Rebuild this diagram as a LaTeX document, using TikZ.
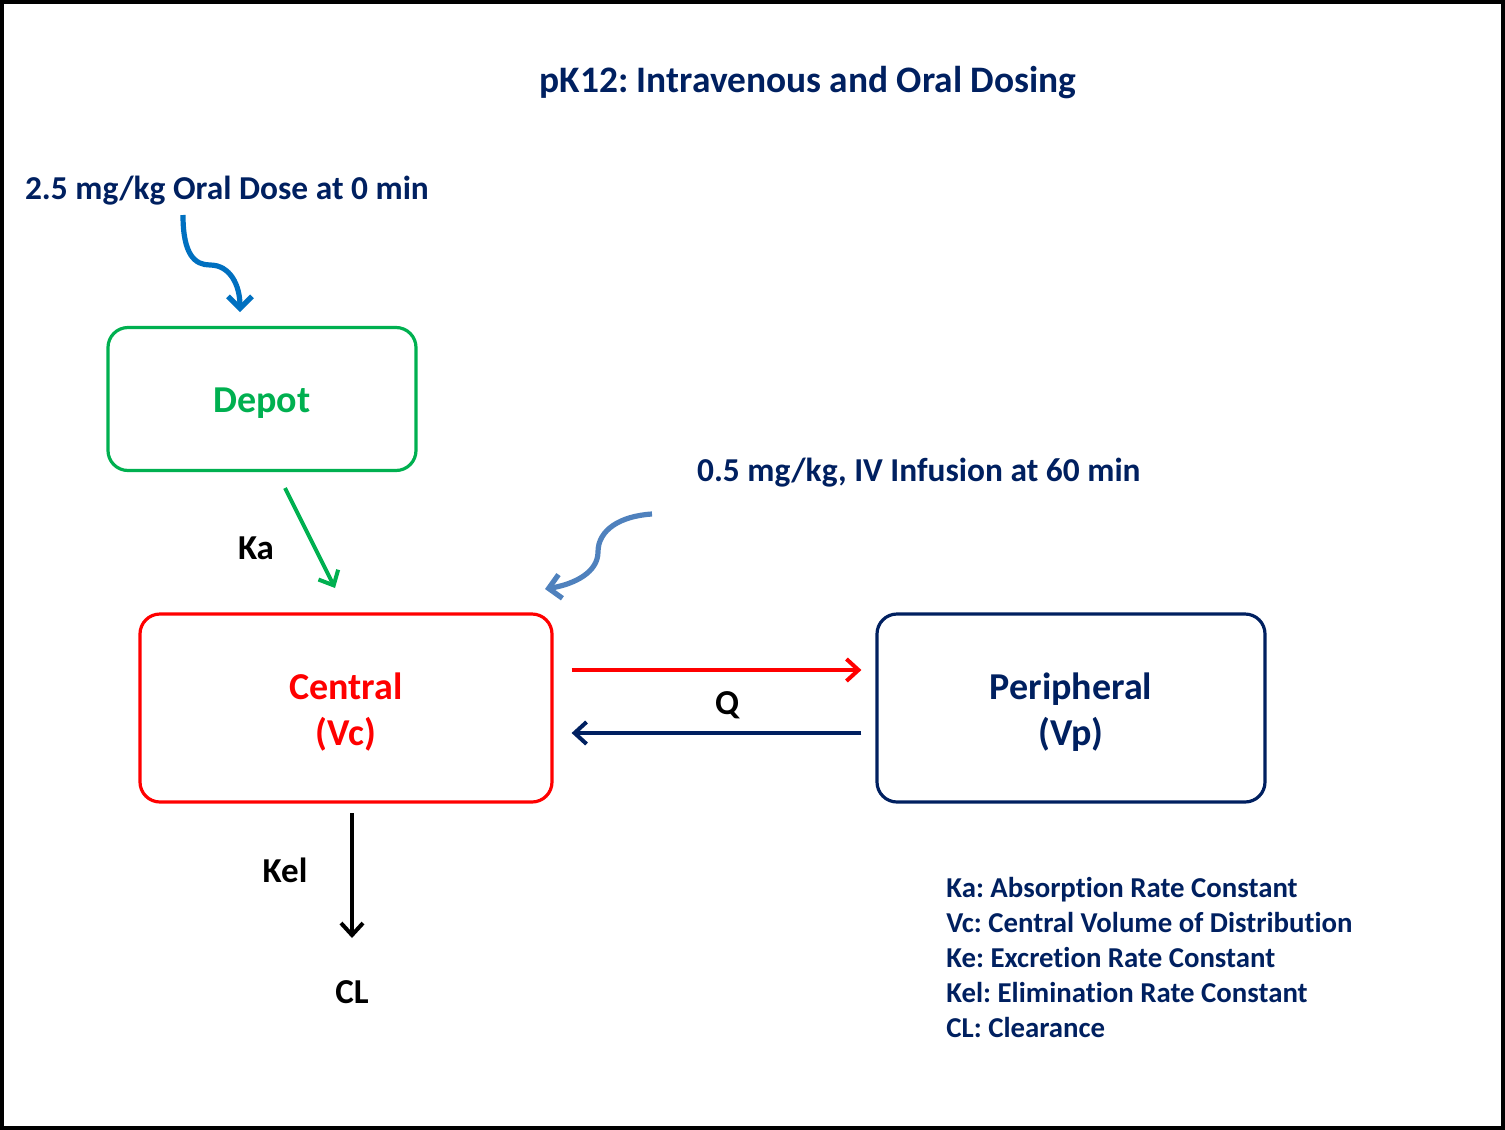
\documentclass[tikz,border=0pt]{standalone}
\usepackage{fontspec}
\setmainfont{Carlito}[Ligatures=NoCommon]
\usetikzlibrary{arrows.meta}
\definecolor{navy}{HTML}{002060}
\definecolor{pkred}{HTML}{FF0000}
\definecolor{pkgreen}{HTML}{00B050}
\definecolor{oralblue}{HTML}{0070C0}
\definecolor{ivblue}{HTML}{4F81BD}
\frenchspacing

\begin{document}
\begin{tikzpicture}[x=0.5pt,y=-0.5pt,font=\bfseries,
  comp/.style={draw,rounded corners=10pt,line width=1.6pt},
  complabel/.style={align=center,yshift=-2pt,font=\fontsize{19}{23}\bfseries\selectfont},
  rate/.style={font=\fontsize{17.5}{20}\bfseries\selectfont},
  flow/.style={line width=2pt,-{Straight Barb[length=6pt,width=11pt,line width=2pt]}},
  dose/.style={line width=2.6pt,-{Straight Barb[length=6pt,width=12pt,line width=2.6pt]}},
  note/.style={text=navy,font=\fontsize{16.7}{19}\bfseries\selectfont}]
\draw[line width=2pt] (2,2) rectangle (1503,1128);
\node[text=navy,font=\fontsize{18.7}{22}\bfseries\selectfont] (title) at (808,83) {pK12: Intravenous and Oral Dosing};
% compartments
\node[comp,draw=pkgreen,minimum width=154pt,minimum height=71.5pt,
  label={[complabel,text=pkgreen]center:Depot}] (depot) at (262,399) {};
\node[comp,draw=pkred,minimum width=206pt,minimum height=94pt,
  label={[complabel,text=pkred]center:{Central\\(Vc)}}] (central) at (346,708) {};
\node[comp,draw=navy,minimum width=194pt,minimum height=94pt,
  label={[complabel,text=navy]center:{Peripheral\\(Vp)}}] (periph) at (1071,708) {};
% doses
\node[note,anchor=west] (oral) at (18,191) {2.5 mg/kg Oral Dose at 0 min};
\node[note,anchor=west] (iv) at (690,473) {0.5 mg/kg, IV Infusion at 60 min};
\coordinate (oralin) at (240,312);
\coordinate (ivin) at (545,589);
\draw[dose,oralblue] (183,215) .. controls (183,255) and (195,265) .. (210,265)
  .. controls (230,265) and (240,285) .. (oralin);
\draw[dose,ivblue] (652,514) .. controls (620,516) and (598,530) .. (598,552)
  .. controls (598,572) and (575,584) .. (ivin);
% rates
\coordinate (kaout) at (285,488);
\coordinate (kain) at (335,588);
\draw[flow,pkgreen] (kaout) -- (kain);
\node[rate] (ka) at (256,548) {Ka};
\draw[flow,pkred] ([shift={(18,-38)}]central.east) -- ([shift={(-14,-38)}]periph.west);
\draw[flow,navy] ([shift={(-14,25)}]periph.west) -- ([shift={(18,25)}]central.east);
\node[rate] (q) at (727,705) {Q};
\node[rate] (cl) at (352,992) {CL};
\coordinate (kelout) at (352,813);
\coordinate (kelin) at (352,938);
\draw[flow,black] (kelout) -- (kelin);
\node[rate] (kel) at (285,870) {Kel};
% legend
\node[anchor=north west,align=left,text=navy,inner sep=0pt,
  font=\fontsize{14.4}{17.5}\bfseries\selectfont] (legend) at (946,877)
  {Ka: Absorption Rate Constant\\Vc: Central Volume of Distribution\\Ke: Excretion Rate Constant\\Kel: Elimination Rate Constant\\CL: Clearance};
\end{tikzpicture}
\end{document}
